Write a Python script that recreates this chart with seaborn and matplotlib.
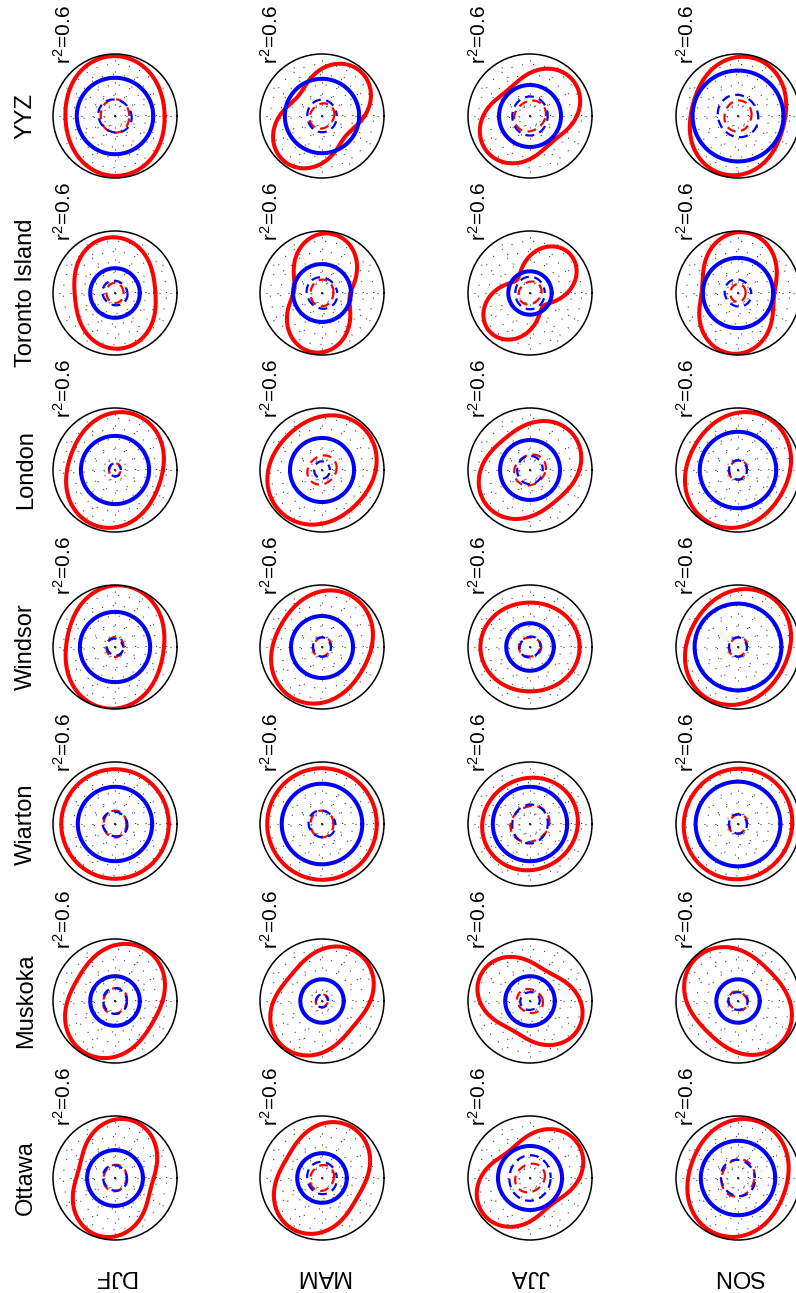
import numpy as np
import pandas as pd
import matplotlib
matplotlib.use("Agg")
import matplotlib.pyplot as plt
import seaborn as sns

sns.set_style("white")
plt.rcParams["font.family"] = ["Liberation Sans", "DejaVu Sans"]
plt.rcParams["text.color"] = "black"
plt.rcParams["mathtext.fontset"] = "custom"
plt.rcParams["mathtext.rm"] = "Liberation Sans"
plt.rcParams["mathtext.it"] = "Liberation Sans"

# stations (bottom row to top row) and seasons (left to right)
stations = ["Ottawa", "Muskoka", "Wiarton", "Windsor", "London", "Toronto Island", "YYZ"]
seasons = ["DJF", "MAM", "JJA", "SON"]
r2_max = 0.6

# thick red curve: largest and smallest r^2 and direction (deg) of the largest
red_hi = [
    [0.58, 0.57, 0.57, 0.58],
    [0.58, 0.58, 0.54, 0.58],
    [0.53, 0.54, 0.47, 0.54],
    [0.60, 0.57, 0.48, 0.58],
    [0.57, 0.57, 0.54, 0.58],
    [0.54, 0.58, 0.54, 0.59],
    [0.58, 0.57, 0.54, 0.58],
]
red_lo = [
    [0.36, 0.39, 0.33, 0.47],
    [0.42, 0.39, 0.33, 0.42],
    [0.52, 0.53, 0.44, 0.52],
    [0.47, 0.45, 0.43, 0.48],
    [0.45, 0.47, 0.39, 0.48],
    [0.39, 0.27, 0.18, 0.35],
    [0.48, 0.30, 0.33, 0.45],
]
red_dir = [
    [75, 60, 38, 70],
    [60, 50, 150, 135],
    [90, 90, 30, 60],
    [80, 60, 0, 60],
    [70, 45, 40, 60],
    [95, 82, 45, 84],
    [92, 50, 40, 75],
]
# thick blue curve (constant r^2)
blue_r2 = [
    [0.27, 0.24, 0.31, 0.36],
    [0.24, 0.21, 0.24, 0.21],
    [0.36, 0.39, 0.36, 0.41],
    [0.34, 0.30, 0.23, 0.42],
    [0.33, 0.31, 0.29, 0.37],
    [0.24, 0.28, 0.21, 0.34],
    [0.37, 0.36, 0.30, 0.44],
]
# dashed curves near the centre
red_dash = [
    [0.12, 0.12, 0.14, 0.17],
    [0.12, 0.06, 0.12, 0.09],
    [0.12, 0.12, 0.18, 0.09],
    [0.09, 0.09, 0.10, 0.09],
    [0.06, 0.14, 0.15, 0.09],
    [0.09, 0.12, 0.11, 0.08],
    [0.15, 0.12, 0.15, 0.14],
]
blue_dash = [
    [0.12, 0.15, 0.21, 0.17],
    [0.12, 0.06, 0.09, 0.09],
    [0.12, 0.13, 0.18, 0.09],
    [0.08, 0.09, 0.10, 0.09],
    [0.06, 0.08, 0.13, 0.09],
    [0.12, 0.15, 0.15, 0.13],
    [0.16, 0.15, 0.18, 0.20],
]

W, H = 796, 1293
col_x = [115, 322, 530, 738]
row_y = [1178, 1001, 824, 647, 470, 293, 116]
rad_px = 62

fig = plt.figure(figsize=(W / 100, H / 100), dpi=100)
theta = np.linspace(0, 2 * np.pi, 721)


def draw(ax, r, color, lw, ls="-"):
    df = pd.DataFrame({"theta": theta, "r": r})
    sns.lineplot(data=df, x="theta", y="r", ax=ax, sort=False, estimator=None,
                 color=color, lw=lw, linestyle=ls, legend=False)


for i, st in enumerate(stations):
    for j, se in enumerate(seasons):
        cx, cy = col_x[j], row_y[i]
        ax = fig.add_axes([(cx - rad_px) / W, 1 - (cy + rad_px) / H,
                           2 * rad_px / W, 2 * rad_px / H], projection="polar")
        hi, lo = red_hi[i][j], red_lo[i][j]
        phi = np.deg2rad(red_dir[i][j])
        red = (hi + lo) / 2 + (hi - lo) / 2 * np.cos(2 * (theta - phi))
        draw(ax, red, "#ff0000", 2.9)
        draw(ax, np.full_like(theta, blue_r2[i][j]), "#0000ff", 2.9)
        rd = red_dash[i][j] * (1 + 0.08 * np.cos(2 * (theta - phi)))
        bd = blue_dash[i][j] * (1 + 0.05 * np.cos(2 * (theta - phi - 0.8)))
        draw(ax, rd, "#ff0000", 1.6, (0, (4, 2.5)))
        draw(ax, bd, "#0000ff", 1.6, (1.5, (4, 2.5)))
        ax.set_ylim(0, r2_max)
        ax.set_yticks([0.1, 0.2, 0.3, 0.4, 0.5])
        ax.set_xticks(np.deg2rad(np.arange(0, 360, 30)))
        ax.set_xticklabels([])
        ax.set_yticklabels([])
        ax.set_xlabel("")
        ax.set_ylabel("")
        ax.grid(True, color="#333333", linestyle=(0, (0.9, 9)), lw=0.8)
        ax.spines["polar"].set_color("k")
        ax.spines["polar"].set_linewidth(1.1)
        ax.set_facecolor("white")
        fig.text((cx - 51) / W, 1 - (cy - 81) / H, r"$r^2$=0.6", rotation=90,
                 ha="center", va="center", fontsize=15)

for i, st in enumerate(stations):
    fig.text(26 / W, 1 - row_y[i] / H, st, rotation=90, ha="center",
             va="center", fontsize=17)
for j, se in enumerate(seasons):
    fig.text(col_x[j] / W, 1 - 1276 / H, se, rotation=180, ha="center",
             va="center", fontsize=17)

fig.savefig("out.png", dpi=100)
